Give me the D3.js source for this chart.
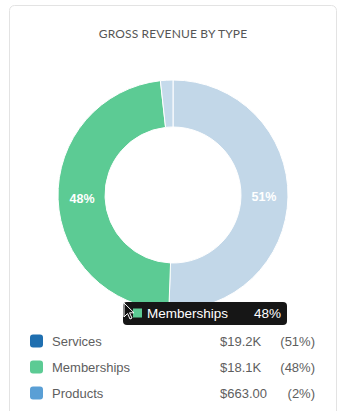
<!DOCTYPE html>
<html><head><meta charset="utf-8">
<script src="https://cdn.jsdelivr.net/npm/d3@7/dist/d3.min.js"></script>
<style>
html,body{margin:0;padding:0;background:#fff;}
svg{display:block;}
</style></head>
<body>
<svg id="c" width="347" height="411"></svg>
<script>
const categories = ["Services", "Memberships", "Products"];
const values = [19200, 18100, 663];
const valueLabels = ["$19.2K", "$18.1K", "$663.00"];
const pctLabels = ["51%", "48%", "2%"];
const colors = ["#1f6fb0", "#5ccb94", "#5a9fd5"];
const fadedColors = ["#c2d7e8", "#5ccb94", "#c5daeb"];
const hovered = "Memberships";

const svg = d3.select("#c");

// card
svg.append("rect").attr("x", 9.5).attr("y", 5.5).attr("width", 327).attr("height", 420)
  .attr("rx", 5).attr("fill", "#fff").attr("stroke", "#e3e3e3");

svg.append("text").attr("x", 173).attr("y", 38).attr("text-anchor", "middle")
  .attr("font-family", "Lato").attr("font-size", 12).attr("fill", "#555")
  .attr("letter-spacing", 0.15)
  .text("GROSS REVENUE BY TYPE");

const cx = 173, cy = 195, rOuter = 115, rInner = 68;
const pie = d3.pie().sort(null).value(d => d)(values);
const arc = d3.arc().innerRadius(rInner).outerRadius(rOuter);
const labelArc = d3.arc().innerRadius(91).outerRadius(91);

const g = svg.append("g").attr("transform", `translate(${cx},${cy})`);
g.selectAll("path").data(pie).join("path")
  .attr("d", arc)
  .attr("fill", (d, i) => fadedColors[i])
  .attr("stroke", "#fff").attr("stroke-width", 1);

g.selectAll("text.pl").data(pie.filter(d => d.endAngle - d.startAngle > 0.3)).join("text")
  .attr("class", "pl")
  .attr("transform", d => `translate(${labelArc.centroid(d)})`)
  .attr("text-anchor", "middle").attr("dy", "0.35em")
  .attr("font-family", "Liberation Sans, Arial").attr("font-weight", "bold")
  .attr("font-size", 12.5).attr("fill", "#fff")
  .text(d => pctLabels[d.index]);

// legend
const ly = d3.scaleBand().domain(categories).range([328, 406]).paddingInner(0);
const lg = svg.append("g");
const legFont = {family: "Liberation Sans, Arial", size: 13, fill: "#5e5e5e"};
categories.forEach((c, i) => {
  const y = ly(c) + ly.bandwidth() / 2;
  lg.append("rect").attr("x", 30).attr("y", y - 6.5).attr("width", 13).attr("height", 13)
    .attr("rx", 3).attr("fill", colors[i]);
  lg.append("text").attr("x", 52).attr("y", y).attr("dy", "0.35em")
    .attr("font-family", legFont.family).attr("font-size", legFont.size).attr("fill", legFont.fill)
    .text(c);
  lg.append("text").attr("x", 220).attr("y", y).attr("dy", "0.35em")
    .attr("font-family", legFont.family).attr("font-size", legFont.size).attr("fill", legFont.fill)
    .text(valueLabels[i]);
  lg.append("text").attr("x", 315).attr("y", y).attr("dy", "0.35em").attr("text-anchor", "end")
    .attr("font-family", legFont.family).attr("font-size", legFont.size).attr("fill", legFont.fill)
    .text("(" + pctLabels[i] + ")");
});

// tooltip
const hi = categories.indexOf(hovered);
const tt = svg.append("g");
tt.append("rect").attr("x", 123).attr("y", 302).attr("width", 164).attr("height", 23)
  .attr("rx", 4).attr("fill", "#161616");
tt.append("rect").attr("x", 133).attr("y", 308.5).attr("width", 9).attr("height", 9)
  .attr("fill", colors[hi]);
tt.append("text").attr("x", 147).attr("y", 313.5).attr("dy", "0.35em")
  .attr("font-family", "Liberation Sans, Arial").attr("font-size", 13.5).attr("fill", "#fff")
  .text(hovered);
tt.append("text").attr("x", 281).attr("y", 313.5).attr("dy", "0.35em").attr("text-anchor", "end")
  .attr("font-family", "Liberation Sans, Arial").attr("font-size", 13.5).attr("fill", "#fff")
  .text(pctLabels[hi]);

// mouse cursor
svg.append("path")
  .attr("d", "M0,0 L0,14 L3.5,10.5 L6,16 L8,15 L5.5,9.8 L10,9.8 Z")
  .attr("transform", "translate(124,303)")
  .attr("fill", "#111").attr("stroke", "#fff").attr("stroke-width", 1);
</script>
</body></html>
